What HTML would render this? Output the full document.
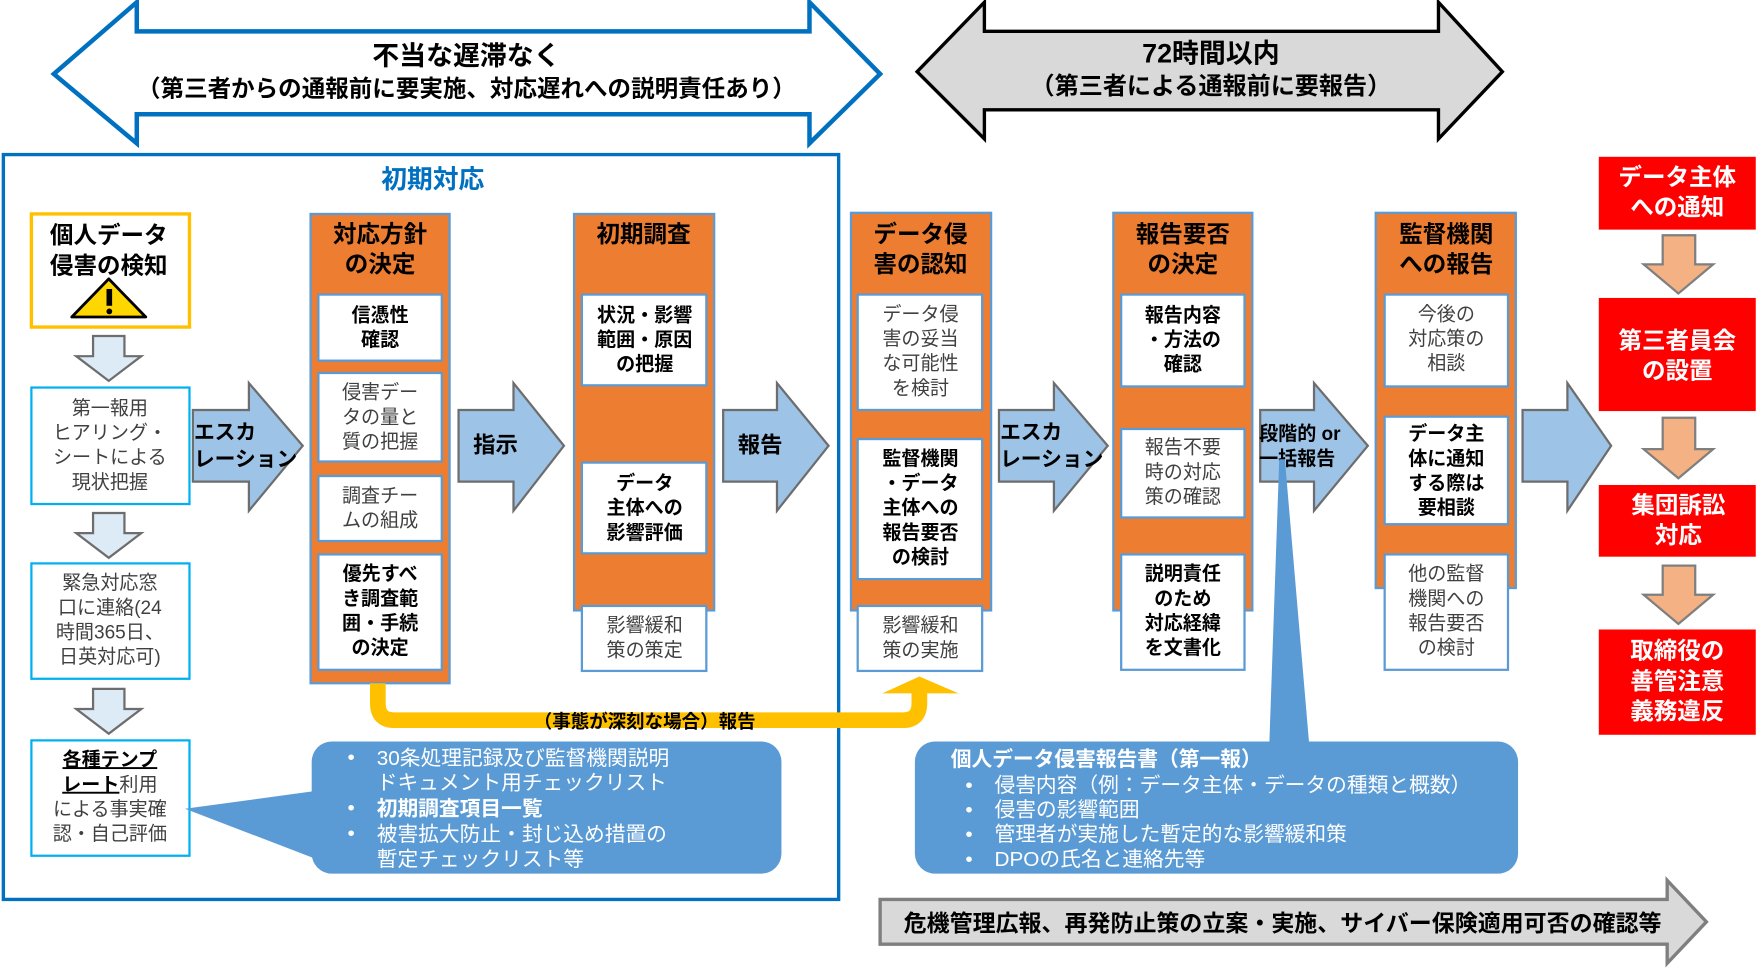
<!DOCTYPE html>
<html><head><meta charset="utf-8"><style>
html,body{margin:0;padding:0;background:#fff;}
svg{display:block;}
text{font-family:"Liberation Sans","Noto Sans CJK JP",sans-serif;}
.b{font-weight:bold;fill:#000;font-size:18px;}
.g{fill:#404040;font-size:17px;}
.t{font-weight:bold;fill:#000;font-size:21px;}
.w{fill:#fff;font-weight:bold;font-size:21px;}
.c{fill:#fff;font-size:18.5px;}
.col{fill:#ED7D31;stroke:#5B9BD5;stroke-width:2;}
.in{fill:#fff;stroke:#5B9BD5;stroke-width:2;}
.cy{fill:#fff;stroke:#00B0F0;stroke-width:2;}
.ba{fill:#9DC3E6;stroke:#6d6d6d;stroke-width:2;}
.da{fill:#DDEBF7;stroke:#6d6d6d;stroke-width:2;}
.oa{fill:#F4B183;stroke:#7f7f7f;stroke-width:2;}
.red{fill:#FF0000;}
</style></head><body>
<svg width="1758" height="970" viewBox="0 0 1568 866" preserveAspectRatio="none" xmlns="http://www.w3.org/2000/svg">
<!-- top arrows -->
<polygon points="48,66 122,2 122,28 722,28 722,2 785,66 722,128 722,102 122,102 122,128" fill="#fff" stroke="#0070C0" stroke-width="4" stroke-linejoin="miter"/>
<text x="416" y="58" text-anchor="middle" class="b" style="font-size:24px">不当な遅滞なく</text>
<text x="416" y="86" text-anchor="middle" class="b" style="font-size:21px">（第三者からの通報前に要実施、対応遅れへの説明責任あり）</text>
<polygon points="818,64 878,2 878,28 1283,28 1283,2 1340,64 1283,124 1283,98 878,98 878,124" fill="#D9D9D9" stroke="#000" stroke-width="3"/>
<text x="1080" y="56" text-anchor="middle" class="b" style="font-size:24px">72時間以内</text>
<text x="1080" y="84" text-anchor="middle" class="b" style="font-size:21.5px">（第三者による通報前に要報告）</text>

<!-- big box -->
<rect x="3" y="138" width="745" height="665" fill="#fff" stroke="#0070C0" stroke-width="3"/>
<text x="386" y="168" text-anchor="middle" style="font-size:23px;font-weight:bold;fill:#0070C0">初期対応</text>

<!-- yellow detect -->
<rect x="28" y="191" width="141" height="101" fill="#fff" stroke="#FFC000" stroke-width="3"/>
<text x="97" y="217" text-anchor="middle" class="t">個人データ</text>
<text x="97" y="244" text-anchor="middle" class="t">侵害の検知</text>
<polygon points="97,249 130,283 64,283" fill="#FFD700" stroke="#000" stroke-width="2.5" stroke-linejoin="round"/>
<rect x="95" y="258" width="5" height="15" fill="#000"/><circle cx="97.5" cy="278" r="2.6" fill="#000"/>

<!-- small down arrows -->
<polygon points="83,300 111,300 111,318 126,318 97,340 68,318 83,318" class="da"/>
<polygon points="83,458 111,458 111,476 126,476 97,498 68,476 83,476" class="da"/>
<polygon points="83,615 111,615 111,633 126,633 97,655 68,633 83,633" class="da"/>

<rect x="28" y="346" width="141" height="104" class="cy"/>
<text text-anchor="middle" class="g"><tspan x="98" y="370">第一報用</tspan><tspan x="98" y="392">ヒアリング・</tspan><tspan x="98" y="414">シートによる</tspan><tspan x="98" y="436">現状把握</tspan></text>
<rect x="28" y="503" width="141" height="103" class="cy"/>
<text text-anchor="middle" class="g"><tspan x="98" y="526">緊急対応窓</tspan><tspan x="98" y="548">口に連絡(24</tspan><tspan x="98" y="570">時間365日、</tspan><tspan x="98" y="592">日英対応可)</tspan></text>
<rect x="28" y="661" width="141" height="103" class="cy"/>
<text x="98" y="684" text-anchor="middle" class="b" style="font-size:17px;text-decoration:underline">各種テンプ</text>
<text x="98" y="706" text-anchor="middle" class="g"><tspan style="font-weight:bold;fill:#000;text-decoration:underline">レート</tspan>利用</text>
<text text-anchor="middle" class="g"><tspan x="98" y="728">による事実確</tspan><tspan x="98" y="750">認・自己評価</tspan></text>

<!-- blue arrows -->
<polygon points="172,366 222,366 222,342 270,398 222,456 222,430 172,430" class="ba"/>
<text class="b" style="font-size:18.5px"><tspan x="173" y="392">エスカ</tspan><tspan x="173" y="416">レーション</tspan></text>
<polygon points="409,366 458,366 458,342 503,398 458,456 458,430 409,430" class="ba"/>
<text x="422" y="404" class="b" style="font-size:20px">指示</text>
<polygon points="645,366 693,366 693,342 739,398 693,456 693,430 645,430" class="ba"/>
<text x="658" y="404" class="b" style="font-size:20px">報告</text>
<polygon points="891,366 940,366 940,342 988,398 940,456 940,430 891,430" class="ba"/>
<text class="b" style="font-size:18.5px"><tspan x="892" y="392">エスカ</tspan><tspan x="892" y="416">レーション</tspan></text>
<polygon points="1124,366 1172,366 1172,342 1220,398 1172,456 1172,430 1124,430" class="ba"/>
<text class="b" style="font-size:17px"><tspan x="1123" y="393">段階的 or</tspan><tspan x="1123" y="415">一括報告</tspan></text>
<polygon points="1358,366 1398,366 1398,342 1437,398 1398,456 1398,430 1358,430" class="ba"/>

<!-- column 1 -->
<rect x="277" y="191" width="124" height="419" class="col"/>
<text text-anchor="middle" class="t"><tspan x="339" y="216">対応方針</tspan><tspan x="339" y="243">の決定</tspan></text>
<rect x="284" y="263" width="110" height="59" class="in"/>
<text text-anchor="middle" class="b" style="font-size:17px"><tspan x="339" y="287">信憑性</tspan><tspan x="339" y="309">確認</tspan></text>
<rect x="284" y="333" width="110" height="79" class="in"/>
<text text-anchor="middle" class="g"><tspan x="339" y="356">侵害デー</tspan><tspan x="339" y="378">タの量と</tspan><tspan x="339" y="400">質の把握</tspan></text>
<rect x="284" y="425" width="110" height="58" class="in"/>
<text text-anchor="middle" class="g"><tspan x="339" y="448">調査チー</tspan><tspan x="339" y="470">ムの組成</tspan></text>
<rect x="284" y="495" width="110" height="103" class="in"/>
<text text-anchor="middle" class="b" style="font-size:17px"><tspan x="339" y="518">優先すべ</tspan><tspan x="339" y="540">き調査範</tspan><tspan x="339" y="562">囲・手続</tspan><tspan x="339" y="584">の決定</tspan></text>

<!-- column 2 -->
<rect x="512" y="191" width="125" height="354" class="col"/>
<text x="574" y="216" text-anchor="middle" class="t">初期調査</text>
<rect x="519" y="263" width="111" height="81" class="in"/>
<text text-anchor="middle" class="b" style="font-size:17px"><tspan x="575" y="287">状況・影響</tspan><tspan x="575" y="309">範囲・原因</tspan><tspan x="575" y="331">の把握</tspan></text>
<rect x="519" y="413" width="111" height="81" class="in"/>
<text text-anchor="middle" class="b" style="font-size:17px"><tspan x="575" y="437">データ</tspan><tspan x="575" y="459">主体への</tspan><tspan x="575" y="481">影響評価</tspan></text>
<rect x="519" y="541" width="111" height="58" class="in"/>
<text text-anchor="middle" class="g"><tspan x="575" y="564">影響緩和</tspan><tspan x="575" y="586">策の策定</tspan></text>

<!-- column 3 -->
<rect x="759" y="190" width="125" height="355" class="col"/>
<text text-anchor="middle" class="t"><tspan x="821" y="216">データ侵</tspan><tspan x="821" y="243">害の認知</tspan></text>
<rect x="765" y="263" width="111" height="103" class="in"/>
<text text-anchor="middle" class="g"><tspan x="821" y="286">データ侵</tspan><tspan x="821" y="308">害の妥当</tspan><tspan x="821" y="330">な可能性</tspan><tspan x="821" y="352">を検討</tspan></text>
<rect x="765" y="392" width="111" height="125" class="in"/>
<text text-anchor="middle" class="b" style="font-size:17px"><tspan x="821" y="415">監督機関</tspan><tspan x="821" y="437">・データ</tspan><tspan x="821" y="459">主体への</tspan><tspan x="821" y="481">報告要否</tspan><tspan x="821" y="503">の検討</tspan></text>
<rect x="765" y="541" width="111" height="58" class="in"/>
<text text-anchor="middle" class="g"><tspan x="821" y="564">影響緩和</tspan><tspan x="821" y="586">策の実施</tspan></text>

<!-- column 4 -->
<rect x="993" y="190" width="124" height="355" class="col"/>
<text text-anchor="middle" class="t"><tspan x="1055" y="216">報告要否</tspan><tspan x="1055" y="243">の決定</tspan></text>
<rect x="1000" y="263" width="110" height="82" class="in"/>
<text text-anchor="middle" class="b" style="font-size:17px"><tspan x="1055" y="287">報告内容</tspan><tspan x="1055" y="309">・方法の</tspan><tspan x="1055" y="331">確認</tspan></text>
<rect x="1000" y="383" width="110" height="79" class="in"/>
<text text-anchor="middle" class="g"><tspan x="1055" y="405">報告不要</tspan><tspan x="1055" y="427">時の対応</tspan><tspan x="1055" y="449">策の確認</tspan></text>
<rect x="1000" y="495" width="110" height="103" class="in"/>
<text text-anchor="middle" class="b" style="font-size:17px"><tspan x="1055" y="518">説明責任</tspan><tspan x="1055" y="540">のため</tspan><tspan x="1055" y="562">対応経緯</tspan><tspan x="1055" y="584">を文書化</tspan></text>

<!-- column 5 -->
<rect x="1227" y="190" width="125" height="335" class="col"/>
<text text-anchor="middle" class="t"><tspan x="1290" y="216">監督機関</tspan><tspan x="1290" y="243">への報告</tspan></text>
<rect x="1235" y="263" width="110" height="82" class="in"/>
<text text-anchor="middle" class="g"><tspan x="1290" y="286">今後の</tspan><tspan x="1290" y="308">対応策の</tspan><tspan x="1290" y="330">相談</tspan></text>
<rect x="1235" y="372" width="110" height="96" class="in"/>
<text text-anchor="middle" class="b" style="font-size:17px"><tspan x="1290" y="393">データ主</tspan><tspan x="1290" y="415">体に通知</tspan><tspan x="1290" y="437">する際は</tspan><tspan x="1290" y="459">要相談</tspan></text>
<rect x="1235" y="495" width="110" height="103" class="in"/>
<text text-anchor="middle" class="g"><tspan x="1290" y="518">他の監督</tspan><tspan x="1290" y="540">機関への</tspan><tspan x="1290" y="562">報告要否</tspan><tspan x="1290" y="584">の検討</tspan></text>

<!-- red boxes -->
<rect x="1426" y="140" width="140" height="65" class="red"/>
<text text-anchor="middle" class="w"><tspan x="1496" y="165">データ主体</tspan><tspan x="1496" y="192">への通知</tspan></text>
<polygon points="1483,210 1512,210 1512,236 1528,236 1497,262 1466,236 1483,236" class="oa"/>
<rect x="1426" y="266" width="140" height="101" class="red"/>
<text text-anchor="middle" class="w"><tspan x="1496" y="311">第三者員会</tspan><tspan x="1496" y="338">の設置</tspan></text>
<polygon points="1483,373 1512,373 1512,401 1528,401 1497,427 1466,401 1483,401" class="oa"/>
<rect x="1426" y="433" width="140" height="64" class="red"/>
<text text-anchor="middle" class="w"><tspan x="1497" y="458">集団訴訟</tspan><tspan x="1497" y="485">対応</tspan></text>
<polygon points="1483,505 1512,505 1512,531 1528,531 1497,557 1466,531 1483,531" class="oa"/>
<rect x="1426" y="562" width="140" height="94" class="red"/>
<text text-anchor="middle" class="w"><tspan x="1496" y="588">取締役の</tspan><tspan x="1496" y="615">善管注意</tspan><tspan x="1496" y="642">義務違反</tspan></text>

<!-- yellow connector -->
<path d="M337,610 L337,628 Q337,643 352,643 L805,643 Q820,643 820,628 L820,617" fill="none" stroke="#FFC000" stroke-width="14"/>
<polygon points="787,619 820,604 855,619" fill="#FFC000"/>
<text x="575" y="650" text-anchor="middle" class="b" style="font-size:16.5px">（事態が深刻な場合）報告</text>

<!-- callout 1 -->
<polygon points="165,722 290,705 290,770" fill="#5B9BD5"/>
<rect x="278" y="662" width="419" height="118" rx="18" fill="#5B9BD5"/>
<g class="c">
<text x="310" y="682">•</text><text x="336" y="683">30条処理記録及び監督機関説明</text>
<text x="336" y="705">ドキュメント用チェックリスト</text>
<text x="310" y="727">•</text><text x="336" y="728" style="font-weight:bold">初期調査項目一覧</text>
<text x="310" y="750">•</text><text x="336" y="751">被害拡大防止・封じ込め措置の</text>
<text x="336" y="773">暫定チェックリスト等</text>
</g>

<!-- callout 2 -->
<polygon points="1141,410 1146,410 1168,668 1132,668" fill="#5B9BD5"/>
<rect x="816" y="662" width="538" height="118" rx="18" fill="#5B9BD5"/>
<g class="c">
<text x="848" y="684" style="font-weight:bold">個人データ侵害報告書（第一報）</text>
<text x="861" y="707">•</text><text x="887" y="707">侵害内容（例：データ主体・データの種類と概数）</text>
<text x="861" y="729">•</text><text x="887" y="729">侵害の影響範囲</text>
<text x="861" y="751">•</text><text x="887" y="751">管理者が実施した暫定的な影響緩和策</text>
<text x="861" y="773">•</text><text x="887" y="773">DPOの氏名と連絡先等</text>
</g>

<!-- bottom gray arrow -->
<polygon points="785,803 1487,803 1487,786 1522,823 1487,860 1487,843 785,843" fill="#D9D9D9" stroke="#7F7F7F" stroke-width="3"/>
<text x="806" y="831" class="b" style="font-size:20.5px">危機管理広報、再発防止策の立案・実施、サイバー保険適用可否の確認等</text>
</svg>
</body></html>
